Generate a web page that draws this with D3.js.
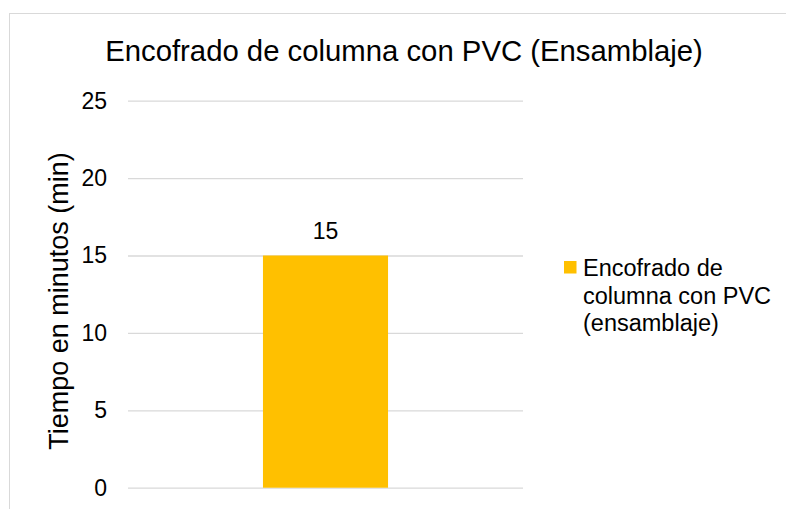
<!DOCTYPE html>
<html>
<head>
<meta charset="utf-8">
<script src="https://cdn.jsdelivr.net/npm/d3@7"></script>
<style>
  body { margin: 0; background: #fff; }
  svg { font-family: "Liberation Sans", Arial, sans-serif; }
</style>
</head>
<body>
<div id="chart"></div>
<script>
  var categories = ["Encofrado de columna con PVC (ensamblaje)"];
  var values = [15];
  var yTicks = [0, 5, 10, 15, 20, 25];
  var legendLines = ["Encofrado de", "columna con PVC", "(ensamblaje)"];
  var title = "Encofrado de columna con PVC (Ensamblaje)";
  var yTitle = "Tiempo en minutos (min)";

  var width = 786, height = 509;
  var plot = { left: 128, right: 523, top: 100.7, bottom: 487.7 };

  var svg = d3.select("#chart").append("svg")
      .attr("width", width)
      .attr("height", height);

  // chart border (cut off on right and bottom like the reference)
  svg.append("rect")
      .attr("x", 9.5).attr("y", 13.5)
      .attr("width", 800).attr("height", 520)
      .attr("fill", "#fff")
      .attr("stroke", "#d9d9d9")
      .attr("stroke-width", 1);

  var x = d3.scaleBand()
      .domain(categories)
      .range([plot.left, plot.right])
      .padding(0.519);

  var y = d3.scaleLinear()
      .domain([0, 25])
      .range([plot.bottom, plot.top]);

  // gridlines + tick labels via axis
  var yAxis = d3.axisLeft(y)
      .tickValues(yTicks)
      .tickSize(-(plot.right - plot.left))
      .tickPadding(21);

  var gy = svg.append("g")
      .attr("transform", "translate(" + plot.left + ",0)")
      .call(yAxis);
  gy.select(".domain").remove();
  gy.selectAll(".tick line")
      .attr("stroke", "#d9d9d9")
      .attr("stroke-width", 1.3);
  gy.selectAll(".tick text")
      .attr("fill", "#000")
      .attr("font-size", "23px")
      .attr("font-family", "Liberation Sans, Arial, sans-serif");

  // bars
  svg.selectAll("rect.bar")
      .data(values)
      .enter()
      .append("rect")
      .attr("class", "bar")
      .attr("x", function(d, i) { return x(categories[i]); })
      .attr("width", x.bandwidth())
      .attr("y", function(d) { return y(d); })
      .attr("height", function(d) { return y(0) - y(d); })
      .attr("fill", "#ffc000");

  // data labels
  svg.selectAll("text.label")
      .data(values)
      .enter()
      .append("text")
      .attr("class", "label")
      .attr("x", function(d, i) { return x(categories[i]) + x.bandwidth() / 2; })
      .attr("y", function(d) { return y(d) - 17; })
      .attr("text-anchor", "middle")
      .attr("font-size", "23px")
      .attr("fill", "#000")
      .text(function(d) { return d; });

  // title
  svg.append("text")
      .attr("x", 404)
      .attr("y", 61)
      .attr("text-anchor", "middle")
      .attr("font-size", "29.3px")
      .attr("fill", "#000")
      .text(title);

  // y axis title
  svg.append("text")
      .attr("transform", "translate(68,301) rotate(-90)")
      .attr("text-anchor", "middle")
      .attr("font-size", "27px")
      .attr("fill", "#000")
      .text(yTitle);

  // legend
  var legend = svg.append("g").attr("transform", "translate(564,261)");
  legend.append("rect")
      .attr("width", 12.5).attr("height", 12.5)
      .attr("fill", "#ffc000");
  legend.selectAll("text")
      .data(legendLines)
      .enter()
      .append("text")
      .attr("x", 19)
      .attr("y", function(d, i) { return 15 + i * 27.5; })
      .attr("font-size", "23.5px")
      .attr("fill", "#000")
      .text(function(d) { return d; });
</script>
</body>
</html>
